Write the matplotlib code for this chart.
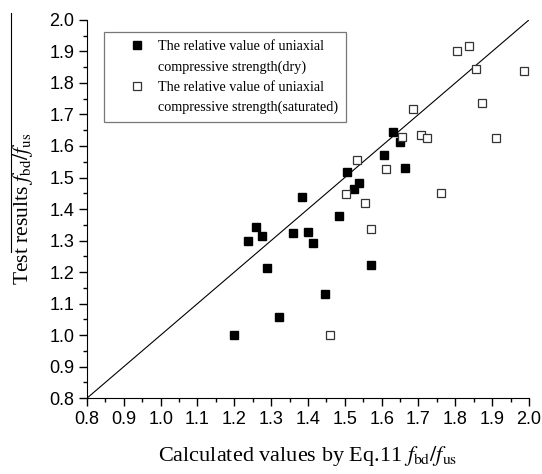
import matplotlib
matplotlib.use("Agg")
import matplotlib.pyplot as plt
from matplotlib.lines import Line2D
from matplotlib.ticker import MultipleLocator

# dry specimens
dry_x = [1.632, 1.649, 1.607, 1.663, 1.507, 1.525, 1.539, 1.385, 1.483, 1.236,
         1.259, 1.276, 1.290, 1.359, 1.400, 1.414, 1.446, 1.322, 1.198, 1.571]
dry_y = [1.643, 1.614, 1.572, 1.530, 1.518, 1.463, 1.482, 1.438, 1.379, 1.299,
         1.343, 1.315, 1.213, 1.324, 1.328, 1.293, 1.130, 1.058, 1.000, 1.221]

# saturated specimens
sat_x = [1.805, 1.836, 1.857, 1.986, 1.873, 1.685, 1.655, 1.706, 1.722, 1.911,
         1.534, 1.611, 1.504, 1.762, 1.555, 1.572, 1.460]
sat_y = [1.900, 1.917, 1.845, 1.837, 1.735, 1.716, 1.628, 1.635, 1.625, 1.625,
         1.555, 1.528, 1.447, 1.450, 1.418, 1.338, 1.000]

line_x = [0.8, 2.0]
line_y = [0.8, 2.0]

legend_lines = ['The relative value of uniaxial', 'compressive strength(dry)',
                'The relative value of uniaxial', 'compressive strength(saturated)']

plt.rcParams['mathtext.fontset'] = 'stix'
serif = 'Liberation Serif'
sans = 'Liberation Sans'

fig = plt.figure(figsize=(5.42, 4.74), dpi=100)
ax = fig.add_axes([0.1605, 0.160, 0.8155, 0.798])

ax.plot(line_x, line_y, color='black', lw=0.8)
h_dry, = ax.plot(dry_x, dry_y, 's', color='black', ms=6.2, ls='none')
h_sat, = ax.plot(sat_x, sat_y, 's', mfc='white', mec='#333333', mew=0.9, ms=6.2, ls='none')

ax.set_xlim(0.8, 2.0)
ax.set_ylim(0.8, 2.0)
ax.xaxis.set_major_locator(MultipleLocator(0.1))
ax.yaxis.set_major_locator(MultipleLocator(0.1))
ax.xaxis.set_minor_locator(MultipleLocator(0.05))
ax.yaxis.set_minor_locator(MultipleLocator(0.05))
ax.tick_params(which='major', direction='out', length=6, width=1, labelsize=13, pad=3)
ax.tick_params(which='minor', direction='out', length=3, width=1)
ax.set_xticks(ax.get_xticks())
ax.set_yticks(ax.get_yticks())
ax.set_xticklabels(['%.1f' % v for v in ax.get_xticks()], family=sans)
ax.set_yticklabels(['%.1f' % v for v in ax.get_yticks()], family=sans)
ax.set_xlim(0.8, 2.0)
ax.set_ylim(0.8, 2.0)
ax.spines['top'].set_visible(False)
ax.spines['right'].set_visible(False)

ax.set_xlabel(r'Calculated values by Eq.11 $f_{\rm bd}/f_{\rm us}$', family=serif, fontsize=16, labelpad=12)
ax.set_ylabel(r'Test results $f_{\rm bd}/f_{\rm us}$', family=serif, fontsize=15.5, labelpad=10)

blank = Line2D([], [], ls='none', marker='none')
leg_dry = Line2D([], [], ls='none', marker='s', color='black', ms=5.5)
leg_sat = Line2D([], [], ls='none', marker='s', mfc='white', mec='#333333', mew=0.9, ms=5.5)
leg = ax.legend([leg_dry, blank, leg_sat, blank], legend_lines,
                loc='upper left', bbox_to_anchor=(0.038, 0.968), prop={'family': serif, 'size': 10.2},
                frameon=True, fancybox=False, edgecolor='#555555', handletextpad=-0.3,
                borderpad=0.55, labelspacing=0.51, handlelength=3.55, borderaxespad=0)
leg.get_frame().set_linewidth(0.9)

# stray rule drawn over the y label in the original
fig.add_artist(Line2D([11 / 542, 11 / 542], [1 - 13 / 474, 1 - 252 / 474], color='black', lw=0.8))

fig.savefig('out.png', dpi=100)
